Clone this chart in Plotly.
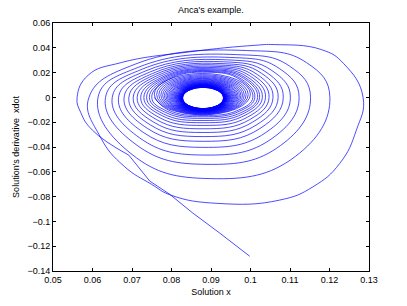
import plotly.graph_objects as go

# ---- data ----
# initial transient (straight solver steps) ending at the visible kink
start_x = [0.0998, 0.0922, 0.0854, 0.0795, 0.0745, 0.0692]
start_y = [-0.1281, -0.1094, -0.0933, -0.0780, -0.0675, -0.0466]

# lead-in from the kink towards the first left turning point
lead_x = [0.0692, 0.0600, 0.0570]
lead_y = [-0.0466, -0.0265, -0.0120]

# first (outermost) loop traced point by point
first_loop_x = [0.0561, 0.0589, 0.0673, 0.0842, 0.1011, 0.1060, 0.1180, 0.1236, 0.1285,
                0.1268, 0.1226, 0.1158, 0.1074, 0.0918, 0.0800, 0.0749, 0.0680, 0.0620]
first_loop_y = [0.0, 0.0179, 0.0281, 0.0366, 0.0420, 0.0426, 0.0385, 0.0272, 0.0,
                -0.0264, -0.0532, -0.0721, -0.0828, -0.0855, -0.0790, -0.0700, -0.0555, -0.0320]

# loops 2..15: left, upper-left, top, upper-right, right, lower-right, bottom, lower-left
loop_left_x = [0.0591, 0.0614, 0.0633, 0.0650, 0.0666, 0.0680, 0.0692, 0.0703, 0.0713,
               0.0722, 0.0730, 0.0737, 0.0744, 0.0750]
ul_x = [0.0708, 0.0717, 0.0726, 0.0735, 0.0744, 0.0752, 0.0759, 0.0765, 0.0771,
        0.0776, 0.0780, 0.0784, 0.0788, 0.0792]
ul_y = [0.0268, 0.0244, 0.0228, 0.0214, 0.0203, 0.0193, 0.0185, 0.0177, 0.0170,
        0.0163, 0.0158, 0.0153, 0.0148, 0.0144]
loop_top_x = [0.0990, 0.0965, 0.0950, 0.0940, 0.0932, 0.0925, 0.0920, 0.0915, 0.0910,
              0.0905, 0.0900, 0.0898, 0.0895, 0.0892]
loop_top_y = [0.0378, 0.0345, 0.0322, 0.0303, 0.0287, 0.0273, 0.0261, 0.0250, 0.0240,
              0.0231, 0.0223, 0.0216, 0.0209, 0.0203]
ur_x = [0.1142, 0.1099, 0.1073, 0.1054, 0.1039, 0.1028, 0.1017, 0.1008, 0.1000,
        0.0993, 0.0987, 0.0983, 0.0977, 0.0973]
ur_y = [0.0280, 0.0252, 0.0233, 0.0217, 0.0205, 0.0194, 0.0185, 0.0177, 0.0170,
        0.0163, 0.0158, 0.0153, 0.0148, 0.0144]
loop_right_x = [0.1201, 0.1152, 0.1123, 0.1101, 0.1083, 0.1070, 0.1057, 0.1047, 0.1038,
                0.1030, 0.1023, 0.1018, 0.1011, 0.1006]
lr_x = [0.1114, 0.1076, 0.1054, 0.1037, 0.1024, 0.1014, 0.1005, 0.0998, 0.0992,
        0.0986, 0.0981, 0.0978, 0.0973, 0.0969]
lr_y = [-0.0475, -0.0388, -0.0332, -0.0287, -0.0251, -0.0224, -0.0200, -0.0179, -0.0160,
        -0.0144, -0.0132, -0.0120, -0.0110, -0.0103]
loop_bottom_x = [0.0898, 0.0890, 0.0885, 0.0882, 0.0880, 0.0880, 0.0880, 0.0880, 0.0880,
                 0.0880, 0.0880, 0.0880, 0.0880, 0.0880]
loop_bottom_y = [-0.0655, -0.0540, -0.0465, -0.0403, -0.0354, -0.0316, -0.0283, -0.0253, -0.0226,
                 -0.0204, -0.0186, -0.0169, -0.0156, -0.0145]
ll_x = [0.0700, 0.0710, 0.0720, 0.0730, 0.0739, 0.0747, 0.0755, 0.0762, 0.0768,
        0.0774, 0.0779, 0.0784, 0.0788, 0.0793]
ll_y = [-0.0460, -0.0380, -0.0328, -0.0285, -0.0250, -0.0223, -0.0200, -0.0179, -0.0160,
        -0.0144, -0.0132, -0.0120, -0.0110, -0.0103]

# densely packed inner turns (extents of each turn), down to the empty core
inner_left_x = [0.07565, 0.07624, 0.07679, 0.07730, 0.07776, 0.07819, 0.07858, 0.07894, 0.07928, 0.07958,
                0.07986, 0.08012, 0.08036, 0.08058, 0.08078, 0.08097, 0.08114, 0.08129, 0.08144, 0.08157,
                0.08169, 0.08181, 0.08191, 0.08200, 0.08209, 0.08217, 0.08225, 0.08232, 0.08238, 0.08244,
                0.08249, 0.08254, 0.08258, 0.08262, 0.08266, 0.08270, 0.08273, 0.08276, 0.08279, 0.08281]
inner_right_x = [0.09998, 0.09942, 0.09890, 0.09842, 0.09798, 0.09757, 0.09720, 0.09685, 0.09654, 0.09624,
                 0.09598, 0.09573, 0.09551, 0.09530, 0.09510, 0.09493, 0.09477, 0.09462, 0.09448, 0.09435,
                 0.09424, 0.09413, 0.09403, 0.09394, 0.09386, 0.09378, 0.09371, 0.09365, 0.09359, 0.09353,
                 0.09348, 0.09343, 0.09339, 0.09335, 0.09332, 0.09328, 0.09325, 0.09322, 0.09320, 0.09317]
inner_top_y = [0.01929, 0.01836, 0.01751, 0.01673, 0.01600, 0.01534, 0.01473, 0.01417, 0.01365, 0.01317,
               0.01274, 0.01233, 0.01196, 0.01162, 0.01131, 0.01102, 0.01075, 0.01051, 0.01028, 0.01008,
               0.00989, 0.00971, 0.00955, 0.00940, 0.00927, 0.00914, 0.00903, 0.00892, 0.00882, 0.00873,
               0.00865, 0.00857, 0.00850, 0.00844, 0.00838, 0.00833, 0.00828, 0.00823, 0.00819, 0.00815]
inner_bottom_y = [-0.01405, -0.01364, -0.01326, -0.01291, -0.01259, -0.01230, -0.01202, -0.01177, -0.01154, -0.01133,
                  -0.01114, -0.01096, -0.01079, -0.01064, -0.01050, -0.01038, -0.01026, -0.01015, -0.01005, -0.00996,
                  -0.00987, -0.00979, -0.00972, -0.00966, -0.00960, -0.00954, -0.00949, -0.00944, -0.00940, -0.00936,
                  -0.00932, -0.00929, -0.00926, -0.00923, -0.00920, -0.00918, -0.00916, -0.00914, -0.00912, -0.00910]

x_ticks = [0.05, 0.06, 0.07, 0.08, 0.09, 0.1, 0.11, 0.12, 0.13]
y_ticks = [0.06, 0.04, 0.02, 0, -0.02, -0.04, -0.06, -0.08, -0.1, -0.12, -0.14]

# ---- assemble the visible spiral in travel order (clockwise) ----
px = list(lead_x) + list(first_loop_x)
py = list(lead_y) + list(first_loop_y)
for i in range(len(loop_left_x)):
    px += [loop_left_x[i], ul_x[i], loop_top_x[i], ur_x[i],
           loop_right_x[i], lr_x[i], loop_bottom_x[i], ll_x[i]]
    py += [0.0, ul_y[i], loop_top_y[i], ur_y[i],
           0.0, lr_y[i], loop_bottom_y[i], ll_y[i]]
px.append(inner_left_x[0])
py.append(0.0)

blue = "#0000ff"
lw = 0.7
fig = go.Figure()
fig.add_trace(go.Scatter(x=start_x, y=start_y, mode="lines",
                         line=dict(color=blue, width=lw, simplify=False), hoverinfo="skip"))
fig.add_trace(go.Scatter(x=px, y=py, mode="lines",
                         line=dict(color=blue, width=lw, shape="spline", smoothing=1.3,
                                   simplify=False),
                         hoverinfo="skip"))

shapes = []
for i in range(len(inner_left_x)):
    shapes.append(dict(type="circle", xref="x", yref="y",
                       x0=inner_left_x[i], x1=inner_right_x[i],
                       y0=inner_bottom_y[i], y1=inner_top_y[i],
                       line=dict(color=blue, width=lw), layer="above"))

font_family = "Liberation Sans, Arial, Helvetica, sans-serif"
fig.update_layout(
    width=407, height=306,
    margin=dict(l=53, r=38, t=23, b=35, autoexpand=False),
    paper_bgcolor="white", plot_bgcolor="white",
    showlegend=False,
    shapes=shapes,
    font=dict(family=font_family, size=9, color="black"),
    title=dict(text="Anca's example.", x=0.5, xref="paper", xanchor="center",
               y=1 - 9.5 / 306, yref="container", yanchor="middle",
               font=dict(size=9, color="black")),
)
fig.update_xaxes(range=[0.05, 0.13], tickvals=x_ticks, ticks="inside", ticklen=3,
                 tickcolor="black", showline=True, linecolor="black", linewidth=1,
                 mirror="ticks", showgrid=False, zeroline=False, automargin=False,
                 title=dict(text="Solution x", standoff=4, font=dict(size=9)))
fig.update_yaxes(range=[-0.14, 0.06], tickvals=y_ticks, ticks="inside", ticklen=3,
                 tickcolor="black", showline=True, linecolor="black", linewidth=1,
                 mirror="ticks", showgrid=False, zeroline=False, automargin=False,
                 title=dict(text="Solution's derivative \u00a0xdot", standoff=6, font=dict(size=9)))

fig.write_html("out.html", config={"responsive": False, "displayModeBar": False},
               post_script="document.body.style.margin='0';document.body.style.overflow='hidden';")
